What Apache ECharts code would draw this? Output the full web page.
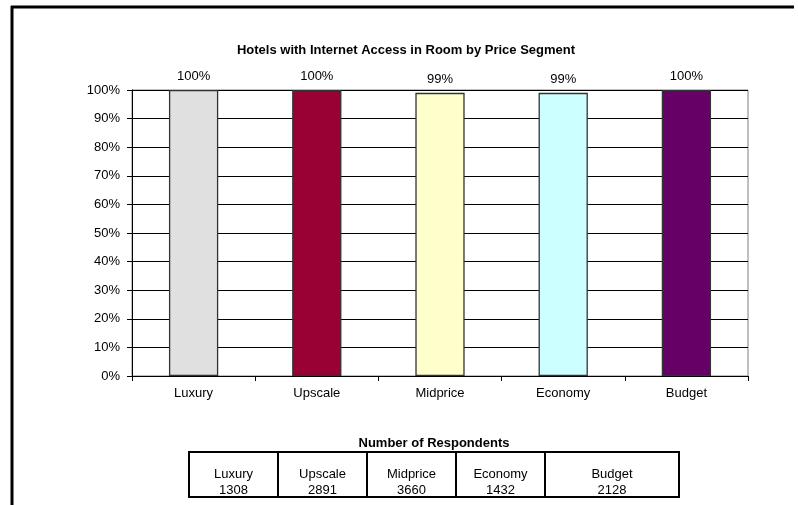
<!DOCTYPE html>
<html>
<head>
<meta charset="utf-8">
<script src="https://cdn.jsdelivr.net/npm/echarts@6/dist/echarts.min.js"></script>
<style>
  html, body { margin: 0; padding: 0; background: #fff; }
  #chart { width: 798px; height: 505px; }
</style>
</head>
<body>
<div id="chart"></div>
<script>
// Price segments and share of hotels offering in-room internet access (%)
const segments = ['Luxury', 'Upscale', 'Midprice', 'Economy', 'Budget'];
const accessPct = [100, 100, 99, 99, 100];
const barColors = ['#E0E0E0', '#990033', '#FFFFCC', '#CCFFFF', '#660066'];

// Respondent counts shown in the table below the chart
const respondents = [1308, 2891, 3660, 1432, 2128];
const tableColWidths = [89, 89, 89, 89, 134];

const FONT = '"Liberation Sans", Arial, sans-serif';

const chart = echarts.init(document.getElementById('chart'), null, { renderer: 'canvas' });

// Respondents table built from the arrays above
const tableLeft = 189, tableTop = 452, tableHeight = 45;
const tableGraphics = [];
let x = tableLeft;
const totalW = tableColWidths.reduce((a, b) => a + b, 0);
tableGraphics.push({
  type: 'rect',
  shape: { x: tableLeft, y: tableTop, width: totalW, height: tableHeight },
  style: { fill: '#fff', stroke: '#000', lineWidth: 2 }
});
segments.forEach((name, i) => {
  const w = tableColWidths[i];
  if (i > 0) {
    tableGraphics.push({
      type: 'line',
      shape: { x1: x, y1: tableTop, x2: x, y2: tableTop + tableHeight },
      style: { stroke: '#000', lineWidth: 2 }
    });
  }
  tableGraphics.push({
    type: 'text',
    style: {
      x: x + w / 2, y: tableTop + 22, text: name,
      textAlign: 'center', textVerticalAlign: 'middle',
      font: '13px ' + FONT, fill: '#000'
    }
  });
  tableGraphics.push({
    type: 'text',
    style: {
      x: x + w / 2, y: tableTop + 38, text: String(respondents[i]),
      textAlign: 'center', textVerticalAlign: 'middle',
      font: '13px ' + FONT, fill: '#000'
    }
  });
  x += w;
});

const option = {
  animation: false,
  backgroundColor: '#fff',
  title: {
    text: 'Hotels with Internet Access in Room by Price Segment',
    left: 401, top: 39, textAlign: 'center',
    textStyle: { fontFamily: FONT, fontSize: 13, fontWeight: 'bold', color: '#000' }
  },
  grid: {
    left: 132, top: 90, right: 50, bottom: 129,
    show: true, borderColor: '#808080', borderWidth: 1, backgroundColor: '#fff'
  },
  xAxis: {
    type: 'category',
    data: segments,
    axisLine: { lineStyle: { color: '#000', width: 1 } },
    axisTick: { show: true, length: 5, lineStyle: { color: '#000' } },
    axisLabel: { fontFamily: FONT, fontSize: 13, color: '#000', margin: 11 }
  },
  yAxis: {
    type: 'value',
    min: 0, max: 100, interval: 10,
    axisLine: { show: true, lineStyle: { color: '#000', width: 1 } },
    axisTick: { show: true, length: 5, lineStyle: { color: '#000' } },
    axisLabel: { formatter: '{value}%', fontFamily: FONT, fontSize: 13, color: '#000', margin: 12 },
    splitLine: { show: true, lineStyle: { color: '#000', width: 1 } }
  },
  series: [{
    type: 'bar',
    data: accessPct.map((v, i) => ({ value: v, itemStyle: { color: barColors[i] } })),
    barWidth: '40%',
    itemStyle: { borderColor: '#333', borderWidth: 1.3 },
    label: {
      show: true, position: 'top', distance: 7,
      formatter: '{c}%', fontFamily: FONT, fontSize: 13, color: '#000'
    }
  }],
  graphic: [
    // Outer frame (top and left edges)
    { type: 'line', shape: { x1: 11, y1: 7, x2: 794, y2: 7 }, style: { stroke: '#000', lineWidth: 3 } },
    { type: 'line', shape: { x1: 12, y1: 6, x2: 12, y2: 505 }, style: { stroke: '#000', lineWidth: 3 } },
    {
      type: 'text',
      style: {
        x: 434, y: 443, text: 'Number of Respondents',
        textAlign: 'center', textVerticalAlign: 'middle',
        font: 'bold 13px ' + FONT, fill: '#000'
      }
    },
    ...tableGraphics
  ]
};

chart.setOption(option);
</script>
</body>
</html>
